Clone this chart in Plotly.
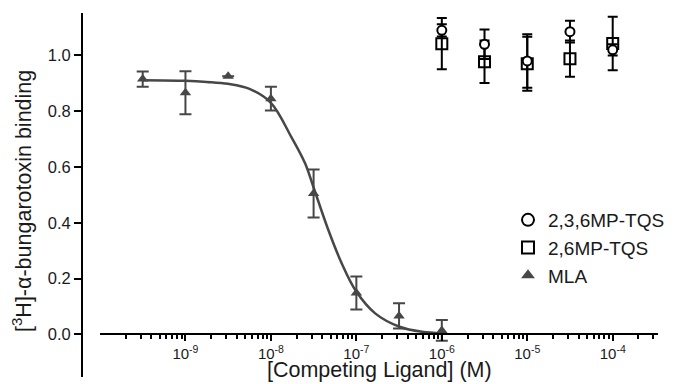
import plotly.graph_objects as go

# ---- data ----
conc_mla = [3.16e-10, 1e-9, 3.16e-9, 1e-8, 3.16e-8, 1e-7, 3.16e-7, 1e-6]
mla = [0.915, 0.866, 0.925, 0.845, 0.505, 0.148, 0.066, 0.014]
mla_err = [0.027, 0.077, None, 0.043, 0.086, 0.059, 0.045, 0.037]

conc_tqs = [1e-6, 3.16e-6, 1e-5, 3.16e-5, 1e-4]
tqs236 = [1.090, 1.040, 0.980, 1.085, 1.020]
tqs236_err = [0.022, 0.053, 0.096, 0.039, 0.020]
tqs26 = [1.042, 0.977, 0.970, 0.988, 1.043]
tqs26_err = [0.092, 0.076, 0.097, 0.065, 0.096]

# fitted curve
fit_conc = [3.16e-10, 1e-9, 1.78e-9, 3.16e-9, 5.62e-9, 1e-8, 1.75e-8, 2.51e-8,
            3.13e-8, 4.7e-8, 6.75e-8, 9.85e-8, 1.66e-7, 3.2e-7, 5.86e-7, 1e-6]
fit_val = [0.911, 0.909, 0.905, 0.898, 0.880, 0.830, 0.705, 0.613,
           0.530, 0.374, 0.254, 0.156, 0.075, 0.027, 0.009, 0.004]

major_ticks = [1e-9, 1e-8, 1e-7, 1e-6, 1e-5, 1e-4]
major_text = ["10<sup>-9</sup>", "10<sup>-8</sup>", "10<sup>-7</sup>",
              "10<sup>-6</sup>", "10<sup>-5</sup>", "10<sup>-4</sup>"]
y_ticks = [0.0, 0.2, 0.4, 0.6, 0.8, 1.0]
y_text = ["0.0", "0.2", "0.4", "0.6", "0.8", "1.0"]

X_RANGE = [-10.0, -3.47]
Y_RANGE = [-0.153, 1.152]

minor_ticks = [m * 10.0 ** e for e in range(-10, -3) for m in range(2, 10)]

FONT = "Liberation Sans, Arial, Helvetica, sans-serif"
GRAY = "#474747"
TXT = "#1a1a1a"

fig = go.Figure()

fig.add_trace(go.Scatter(
    x=conc_tqs, y=tqs26, mode="markers", name="2,6MP-TQS", legendrank=2,
    marker=dict(symbol="square-open", size=11, color="black", line=dict(width=2)),
    error_y=dict(type="data", array=tqs26_err, color="black", thickness=2, width=5),
    cliponaxis=False,
))
fig.add_trace(go.Scatter(
    x=conc_tqs, y=tqs236, mode="markers", name="2,3,6MP-TQS", legendrank=1,
    marker=dict(symbol="circle", size=9, color="white", line=dict(width=2, color="black")),
    error_y=dict(type="data", array=tqs236_err, color="black", thickness=2, width=5),
    cliponaxis=False,
))
fig.add_trace(go.Scatter(
    x=fit_conc, y=fit_val, mode="lines", line=dict(color=GRAY, width=2.5, shape="spline"),
    showlegend=False, hoverinfo="skip",
))
fig.add_trace(go.Scatter(
    x=conc_mla, y=mla, mode="markers", name="MLA", legendrank=3,
    marker=dict(symbol="triangle-up", size=10, color=GRAY),
    error_y=dict(type="data", array=mla_err, color=GRAY, thickness=2, width=6),
    cliponaxis=False,
))

# the page body adds an 8px offset, so the figure is laid out 8px smaller
OFF = 8
W, H = 678 - OFF, 384 - OFF
ML, MR, MT, MB = 82 - OFF, 20, 13 - OFF, 7
plot_w = W - ML - MR
plot_h = H - MT - MB
x_start = (100 - OFF - ML) / plot_w
x_axis_pos = (0 - Y_RANGE[0]) / (Y_RANGE[1] - Y_RANGE[0])


def px(x):
    return (x - OFF - ML) / plot_w


def py(y):
    return (H - MB - (y - OFF)) / plot_h


fig.update_layout(
    width=W, height=H,
    margin=dict(l=ML, r=MR, t=MT, b=MB, autoexpand=False),
    paper_bgcolor="white", plot_bgcolor="white",
    font=dict(family=FONT, color=TXT, size=16),
    showlegend=True,
    legend=dict(x=px(508), y=py(201),
                xanchor="left", yanchor="top",
                font=dict(size=19, family=FONT, color=TXT),
                bgcolor="rgba(0,0,0,0)", itemsizing="constant",
                tracegroupgap=0),
    xaxis=dict(
        type="log", range=X_RANGE, domain=[x_start, 1],
        anchor="free", position=x_axis_pos, automargin=False,
        showline=True, linecolor="black", linewidth=2,
        showgrid=False, zeroline=False,
        tickmode="array", tickvals=major_ticks, ticktext=major_text,
        ticks="outside", ticklen=6, tickwidth=1.5, tickcolor="black",
        tickfont=dict(size=15, family=FONT, color=TXT),
        minor=dict(tickmode="array", tickvals=minor_ticks, ticks="outside",
                   ticklen=4, tickwidth=1.5, tickcolor="black", showgrid=False),
    ),
    yaxis=dict(
        range=Y_RANGE, anchor="free", position=0, automargin=False,
        showline=True, linecolor="black", linewidth=2,
        showgrid=False, zeroline=False,
        tickmode="array", tickvals=y_ticks, ticktext=y_text,
        ticks="outside", ticklen=7, tickwidth=1.5, tickcolor="black",
        tickfont=dict(size=16.5, family=FONT, color=TXT),
    ),
    annotations=[
        dict(text="[Competing Ligand] (M)", xref="paper", yref="paper",
             x=px(379), y=py(370), xanchor="center", yanchor="middle",
             showarrow=False, font=dict(size=21.5, family=FONT, color=TXT)),
        dict(text="[<sup>3</sup>H]-α-bungarotoxin binding", xref="paper", yref="paper",
             x=px(22), y=py(201), xanchor="center", yanchor="middle",
             textangle=-90, showarrow=False,
             font=dict(size=21.5, family=FONT, color=TXT)),
    ],
)

fig.write_html("out.html")
